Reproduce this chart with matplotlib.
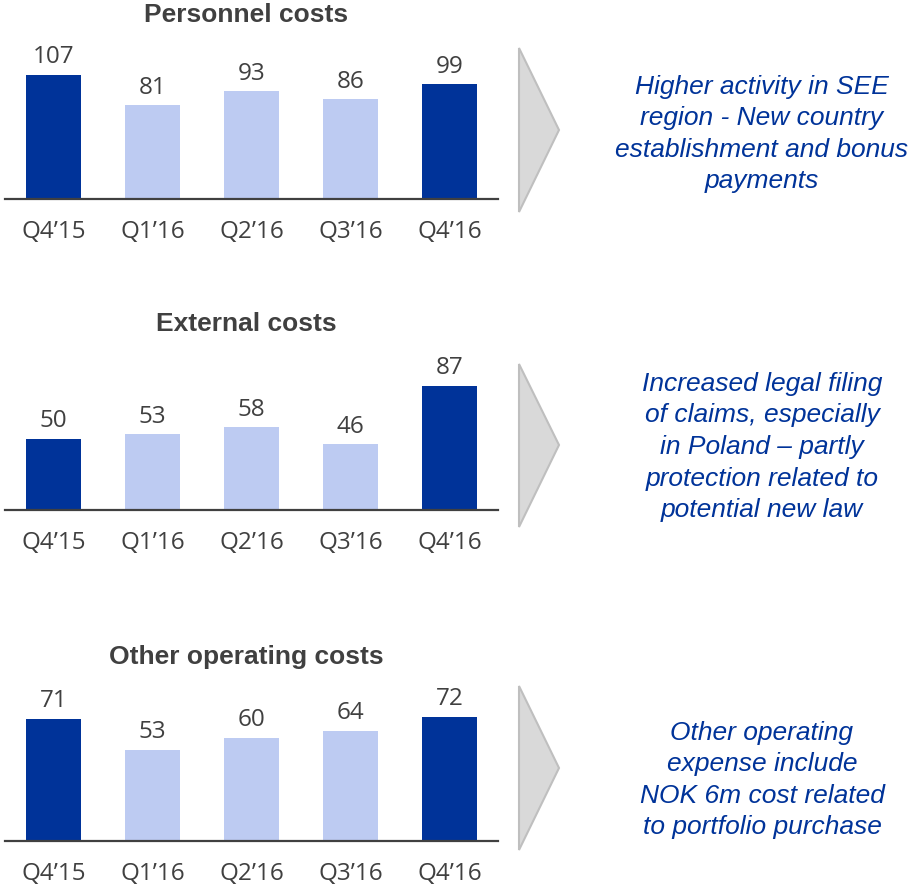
import numpy as np
import matplotlib.pyplot as plt
from matplotlib.patches import Polygon

quarters = ["Q4\u201915", "Q1\u201916", "Q2\u201916", "Q3\u201916", "Q4\u201916"]
personnel = [107, 81, 93, 86, 99]
external = [50, 53, 58, 46, 87]
other_opex = [71, 53, 60, 64, 72]
titles = ["Personnel costs", "External costs", "Other operating costs"]
comments = [
    "Higher activity in SEE\nregion - New country\nestablishment and bonus\npayments",
    "Increased legal filing\nof claims, especially\nin Poland \u2013 partly\nprotection related to\npotential new law",
    "Other operating\nexpense include\nNOK 6m cost related\nto portfolio purchase",
]

dark_blue = "#003399"
light_blue = "#BDCBF2"
grey_txt = "#404040"

W, H = 912, 888
fig = plt.figure(figsize=(W / 100, H / 100), dpi=100)

# pixel layout of each panel: baseline, title y, arrow top/tip/bottom, comment centre
panels = [
    dict(base=199, title=15, arr=(48, 130, 212), txt=134),
    dict(base=510, title=324, arr=(364, 445, 527), txt=447),
    dict(base=841, title=657, arr=(686, 768, 850), txt=780),
]
series = [personnel, external, other_opex]

ax_h = 155
for vals, ttl, note, p in zip(series, titles, comments, panels):
    ax = fig.add_axes([5 / W, 1 - p["base"] / H, 493 / W, ax_h / H])
    x = np.arange(len(quarters))
    cols = [dark_blue if i in (0, len(vals) - 1) else light_blue for i in range(len(vals))]
    bars = ax.bar(x, vals, width=0.56, color=cols)
    ax.set_xlim(-0.49, 4.49)
    ax.set_ylim(0, max(vals) * ax_h / 124)
    for b, v in zip(bars, vals):
        ax.annotate(str(v), (b.get_x() + b.get_width() / 2, v), xytext=(0, 4),
                    textcoords="offset points", ha="center", va="bottom",
                    fontsize=17.5, color=grey_txt, family="Open Sans")
    ax.set_xticks(x)
    ax.set_xticklabels(quarters, fontsize=17.5, color=grey_txt, family="Open Sans")
    ax.tick_params(axis="x", length=0, pad=15)
    ax.set_yticks([])
    for s in ["top", "right", "left"]:
        ax.spines[s].set_visible(False)
    ax.spines["bottom"].set_color(grey_txt)
    ax.spines["bottom"].set_linewidth(1.6)

    fig.text(246 / W, 1 - p["title"] / H, ttl, ha="center", va="center",
             fontsize=19, fontweight="bold", color=grey_txt, family="Liberation Sans")

    top, tip, bot = p["arr"]
    tri = Polygon([(519 / W, 1 - top / H), (559 / W, 1 - tip / H), (519 / W, 1 - bot / H)],
                  closed=True, transform=fig.transFigure, facecolor="#D9D9D9",
                  edgecolor="#BFBFBF", linewidth=1.5)
    fig.patches.append(tri)

    fig.text(762 / W, 1 - p["txt"] / H, note, ha="center", va="center",
             fontsize=19, style="italic", color=dark_blue, family="Liberation Sans",
             linespacing=1.4)

fig.savefig("out.png", dpi=100)
